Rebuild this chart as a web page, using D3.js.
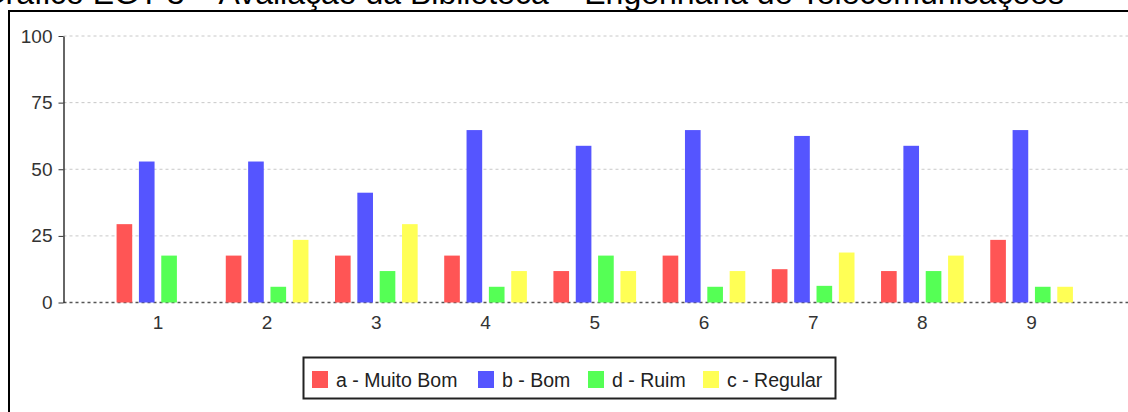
<!DOCTYPE html>
<html>
<head>
<meta charset="utf-8">
<script src="https://cdn.jsdelivr.net/npm/d3@7"></script>
<style>
  html, body { margin: 0; padding: 0; background: #fff; overflow: hidden; }
  svg { display: block; font-family: "Liberation Sans", Arial, sans-serif; }
</style>
</head>
<body>
<script>
  // Chart data
  const title = 'Gráfico EGT 3 – Avaliação da Biblioteca – Engenharia de Telecomunicações';
  const categories = ['1', '2', '3', '4', '5', '6', '7', '8', '9'];
  const seriesNames = ['a - Muito Bom', 'b - Bom', 'd - Ruim', 'c - Regular'];
  const muitoBom = [29.4, 17.6, 17.6, 17.6, 11.8, 17.6, 12.5, 11.8, 23.5];
  const bom = [52.9, 52.9, 41.2, 64.7, 58.8, 64.7, 62.5, 58.8, 64.7];
  const ruim = [17.6, 5.9, 11.8, 5.9, 17.6, 5.9, 6.25, 11.8, 5.9];
  const regular = [0, 23.5, 29.4, 11.8, 11.8, 11.8, 18.75, 17.6, 5.9];
  const yTicks = [0, 25, 50, 75, 100];

  const seriesValues = [muitoBom, bom, ruim, regular];
  const colors = ['#ff5555', '#5555ff', '#55ff55', '#ffff55'];

  const width = 1128;
  const height = 412;
  const plot = { left: 63.5, right: 1126, top: 36, bottom: 302.5 };

  const svg = d3.select('body')
    .append('svg')
    .attr('width', width)
    .attr('height', height);

  // Title (cropped at the top in the original)
  svg.append('text')
    .attr('x', 1064)
    .attr('y', 4)
    .attr('text-anchor', 'end')
    .style('font-size', '32px')
    .attr('fill', '#000')
    .text(title);

  // Chart border
  svg.append('rect')
    .attr('x', 9)
    .attr('y', 11)
    .attr('width', 1140)
    .attr('height', 420)
    .attr('fill', 'none')
    .attr('stroke', '#000')
    .attr('stroke-width', 2);

  // Scales
  const x = d3.scaleBand()
    .domain(categories)
    .range([plot.left, plot.right])
    .paddingInner(0.243)
    .paddingOuter(0.486);

  const xs = d3.scaleBand()
    .domain(seriesNames)
    .range([0, x.bandwidth()])
    .paddingInner(0.3);

  const y = d3.scaleLinear()
    .domain([0, 100])
    .range([plot.bottom, plot.top]);

  // Gridlines
  svg.append('g')
    .selectAll('line')
    .data(yTicks)
    .enter()
    .append('line')
    .attr('x1', plot.left)
    .attr('x2', width)
    .attr('y1', d => y(d))
    .attr('y2', d => y(d))
    .attr('stroke', d => (d === 0 ? '#555' : '#c8c8c8'))
    .attr('stroke-width', d => (d === 0 ? 1.5 : 1))
    .attr('stroke-dasharray', '3,3');

  // Bars
  const groups = svg.append('g')
    .selectAll('g')
    .data(categories)
    .enter()
    .append('g')
    .attr('transform', d => `translate(${x(d)},0)`);

  groups.selectAll('rect')
    .data((c, i) => seriesNames.map((s, k) => ({ s, k, v: seriesValues[k][i] })))
    .enter()
    .filter(d => d.v > 0)
    .append('rect')
    .attr('x', d => xs(d.s))
    .attr('width', xs.bandwidth())
    .attr('y', d => y(d.v))
    .attr('height', d => y(0) - y(d.v))
    .attr('fill', d => colors[d.k]);

  // Y axis
  const yAxis = d3.axisLeft(y)
    .tickValues(yTicks)
    .tickSizeInner(5)
    .tickSizeOuter(0)
    .tickPadding(6);

  const yg = svg.append('g')
    .attr('transform', `translate(${plot.left},0)`)
    .call(yAxis);
  yg.select('.domain').attr('stroke', '#333').attr('stroke-width', 1.5);
  yg.selectAll('.tick line').attr('stroke', '#333');
  yg.selectAll('.tick text')
    .style('font-size', '19px')
    .style('font-family', '"Liberation Sans", Arial, sans-serif')
    .attr('fill', '#333');

  // X axis labels
  const xAxis = d3.axisBottom(x)
    .tickSize(0)
    .tickPadding(13);

  const xg = svg.append('g')
    .attr('transform', `translate(0,${plot.bottom})`)
    .call(xAxis);
  xg.select('.domain').remove();
  xg.selectAll('.tick text')
    .style('font-size', '19px')
    .style('font-family', '"Liberation Sans", Arial, sans-serif')
    .attr('fill', '#333');

  // Legend
  const legendX = [312, 478, 588, 703];
  const leg = svg.append('g').attr('class', 'legend');

  leg.append('rect')
    .attr('x', 303.5)
    .attr('y', 357.5)
    .attr('width', 532)
    .attr('height', 41)
    .attr('fill', '#fff')
    .attr('stroke', '#222')
    .attr('stroke-width', 2);

  const items = leg.selectAll('g')
    .data(seriesNames)
    .enter()
    .append('g')
    .attr('transform', (d, i) => `translate(${legendX[i]},371)`);

  items.append('rect')
    .attr('width', 16)
    .attr('height', 17)
    .attr('fill', (d, i) => colors[i]);

  items.append('text')
    .attr('x', 24)
    .attr('y', 16)
    .style('font-size', '19.5px')
    .attr('fill', '#222')
    .text(d => d);
</script>
</body>
</html>
